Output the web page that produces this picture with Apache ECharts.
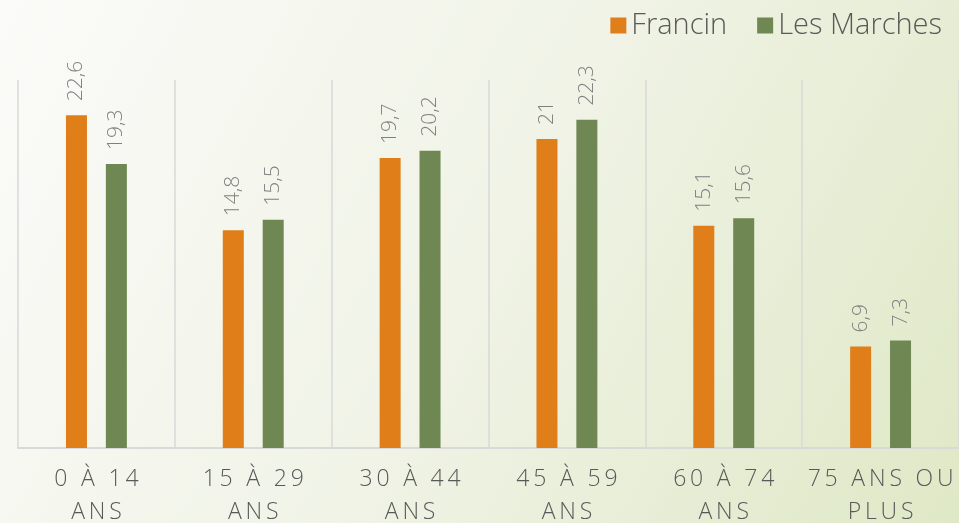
<!DOCTYPE html>
<html>
<head>
<meta charset="utf-8">
<style>
  html, body { margin: 0; padding: 0; }
  #chart { width: 959px; height: 523px; }
</style>
<script src="https://cdn.jsdelivr.net/npm/echarts@6/dist/echarts.min.js"></script>
</head>
<body>
<div id="chart"></div>
<script>
// tranches d'âge
const categories = ['0 À 14\nANS', '15 À 29\nANS', '30 À 44\nANS', '45 À 59\nANS', '60 À 74\nANS', '75 ANS OU\nPLUS']
const francin = [22.6, 14.8, 19.7, 21, 15.1, 6.9]
const lesMarches = [19.3, 15.5, 20.2, 22.3, 15.6, 7.3]

const font = '"Open Sans", Lato, sans-serif'

// espacement des lettres comme dans l'original
const spaced = s => s.split('\n').map(l => l.split('').join('\u2009')).join('\n')

const valueLabel = {
  show: true,
  position: 'top',
  rotate: 90,
  align: 'left',
  verticalAlign: 'middle',
  distance: 14,
  color: '#808080',
  fontSize: 21,
  fontWeight: 300,
  fontFamily: font,
  formatter: p => String(p.value).replace('.', ',')
}

const chart = echarts.init(document.getElementById('chart'))
chart.setOption({
  backgroundColor: new echarts.graphic.LinearGradient(0, 0, 1, 1, [
    { offset: 0, color: '#fbfbf9' },
    { offset: 0.5, color: '#f0f3e6' },
    { offset: 1, color: '#dfe8c6' }
  ]),
  textStyle: { fontFamily: font },
  legend: {
    top: 6,
    right: 12,
    itemWidth: 16,
    itemHeight: 16,
    itemGap: 30,
    icon: 'rect',
    textStyle: { fontSize: 29, color: '#595959', fontFamily: font, fontWeight: 300 }
  },
  grid: { left: 18, right: 0, top: 80, bottom: 75, outerBoundsMode: 'none' },
  xAxis: {
    type: 'category',
    data: categories,
    axisLine: { lineStyle: { color: '#d9d9d9', width: 2 } },
    axisTick: { show: false },
    splitLine: { show: true, lineStyle: { color: '#d9d9d9', width: 1.5 } },
    axisLabel: {
      interval: 0,
      margin: 15,
      fontSize: 23,
      lineHeight: 33,
      color: '#595959',
      fontWeight: 300,
      fontFamily: font,
      formatter: v => spaced(v)
    }
  },
  yAxis: {
    type: 'value',
    min: 0,
    max: 25,
    show: false,
    splitLine: { show: false }
  },
  series: [
    {
      name: 'Francin',
      type: 'bar',
      data: francin,
      barWidth: 21,
      barGap: '90%',
      itemStyle: { color: '#e07e1a' },
      label: valueLabel
    },
    {
      name: 'Les Marches',
      type: 'bar',
      data: lesMarches,
      barWidth: 21,
      itemStyle: { color: '#6f8752' },
      label: valueLabel
    }
  ]
})
</script>
</body>
</html>
